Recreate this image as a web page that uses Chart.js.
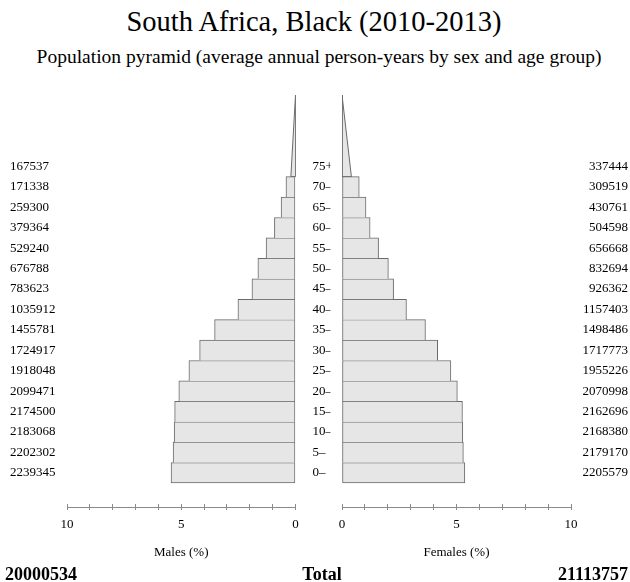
<!DOCTYPE html>
<html>
<head>
<meta charset="utf-8">
<script src="https://cdn.jsdelivr.net/npm/chart.js@4/dist/chart.umd.min.js"></script>
<style>
  html, body { margin: 0; padding: 0; background: #fff; }
  #wrap { position: relative; width: 630px; height: 582px; overflow: hidden;
          font-family: "Liberation Serif", "Times New Roman", serif; color: #000; }
  #wrap canvas { position: absolute; left: 0; top: 0; }
  .txt { position: absolute; white-space: nowrap; line-height: 1; }
</style>
</head>
<body>
<div id="wrap">
  <div class="txt" id="title" style="left:0; width:628px; text-align:center; top:8px; font-size:28.5px;">South Africa, Black (2010-2013)</div>
  <div class="txt" id="subtitle" style="left:4px; width:630px; text-align:center; top:47px; font-size:19.5px;">Population pyramid (average annual person-years by sex and age group)</div>
  <canvas id="maleChart" width="630" height="582"></canvas>
  <canvas id="femaleChart" width="630" height="582"></canvas>
  <div class="txt" id="maleTotal" style="left:5px; top:565px; font-size:18px; font-weight:bold;"></div>
  <div class="txt" id="totalLabel" style="left:0; width:644px; text-align:center; top:565px; font-size:18px; font-weight:bold;">Total</div>
  <div class="txt" id="femaleTotal" style="right:2px; top:565px; font-size:18px; font-weight:bold;"></div>
</div>
<script>
// Five-year age groups, youngest first; the last group is open-ended.
const ageGroups = ['0–', '5–', '10–', '15–', '20–', '25–', '30–', '35–',
                   '40–', '45–', '50–', '55–', '60–', '65–', '70–', '75+'];
const ageStart  = [0, 5, 10, 15, 20, 25, 30, 35, 40, 45, 50, 55, 60, 65, 70, 75];

// Average annual person-years per age group.
const males   = [2239345, 2202302, 2183068, 2174500, 2099471, 1918048, 1724917, 1455781,
                 1035912, 783623, 676788, 529240, 379364, 259300, 171338, 167537];
const females = [2205579, 2179170, 2168380, 2162696, 2070998, 1955226, 1717773, 1498486,
                 1157403, 926362, 832694, 656668, 504598, 430761, 309519, 337444];

// Percent-axis ticks (every 1 %, labelled every 5 %).
const pctTicks = [0, 5, 10];

const BAND = 5;          // width of an age group in years
const OPEN_TOP = 95;     // the open 75+ group tapers off at this age
const Y_MIN = -5.142;    // room below the youngest group for the percent axis

const sum = a => a.reduce((s, v) => s + v, 0);
const maleTotal = sum(males);
const femaleTotal = sum(females);
const grandTotal = maleTotal + femaleTotal;
const pct = v => v / grandTotal * 100;

const FILL = '#e6e6e6';
const EDGE = '#6a6a6a';
const AXIS = '#8a8a8a';
const FONT = { family: '"Liberation Serif", "Times New Roman", serif', size: 13 };
const bandCentres = ageStart.map(a => a + BAND / 2);
const lastClosed = ageStart.length - 1;

// Closed five-year groups as horizontal bars.
function barsFor(values) {
  return values.slice(0, lastClosed).map((v, i) => ({ x: pct(v), y: bandCentres[i] }));
}
// Open 75+ group as a triangle spread over 75..95 with the same area as one band.
function tipFor(values) {
  const open = ageStart[lastClosed];
  const base = pct(values[lastClosed]) * BAND / (OPEN_TOP - open) * 2;
  return [{ x: 0, y: open }, { x: base, y: open }, { x: 0, y: OPEN_TOP }, { x: 0, y: open }];
}

// Thin shared edges between stacked groups: only the bottom group gets a bottom edge.
const edgeWidths = ctx => ({ top: 1, left: 1, right: 1, bottom: ctx.dataIndex === 0 ? 1 : 0 });

// Horizontal percent-axis line running through the middle of the tick marks.
const axisLine = {
  id: 'axisLine',
  afterDraw(chart) {
    const s = chart.scales.x;
    const y = Math.round(s.top + 3) + 0.5;
    const ctx = chart.ctx;
    ctx.save();
    ctx.strokeStyle = AXIS;
    ctx.lineWidth = 1;
    ctx.beginPath();
    ctx.moveTo(s.getPixelForValue(0), y);
    ctx.lineTo(s.getPixelForValue(10), y);
    ctx.stroke();
    ctx.restore();
  }
};

function pctAxis(reverse, title) {
  return {
    type: 'linear', position: 'bottom', reverse, min: 0, max: 10,
    border: { display: false },
    grid: { display: true, drawOnChartArea: false, drawTicks: true, tickLength: 6, color: AXIS, lineWidth: 1 },
    ticks: { stepSize: 1, autoSkip: false, maxRotation: 0, padding: 7, font: FONT, color: '#000',
             callback: v => pctTicks.includes(v) ? String(v) : '' },
    title: { display: true, text: title, font: FONT, color: '#000', padding: { top: 0, bottom: 22 } },
    afterFit: s => { s.height = 78; }
  };
}

function ageAxis(position, labels, width, crossAlign, padding) {
  return {
    type: 'linear', position, min: Y_MIN, max: OPEN_TOP, offset: false,
    border: { display: false },
    grid: { display: false, drawTicks: false },
    afterBuildTicks: s => { s.ticks = bandCentres.map(v => ({ value: v })); },
    ticks: { autoSkip: false, padding, crossAlign, font: FONT, color: '#000',
             callback: (v, i) => String(labels[i]) },
    afterFit: s => { s.width = width; }
  };
}

function datasets(values) {
  return [
    { type: 'bar', data: barsFor(values), backgroundColor: FILL, borderColor: EDGE,
      borderWidth: edgeWidths, borderSkipped: false, barPercentage: 1, categoryPercentage: 1 },
    { type: 'line', data: tipFor(values), backgroundColor: FILL, borderColor: EDGE,
      borderWidth: 1, fill: 'shape', pointRadius: 0, tension: 0 }
  ];
}

const common = {
  indexAxis: 'y', responsive: false, animation: false, devicePixelRatio: 1, events: [],
  plugins: { legend: { display: false }, tooltip: { enabled: false } }
};

new Chart(document.getElementById('maleChart'), {
  type: 'bar',
  data: { datasets: datasets(males) },
  options: Object.assign({}, common, {
    layout: { padding: { left: 10, right: 299.5, top: 95, bottom: 0 } },
    scales: {
      x: pctAxis(true, 'Males (%)'),
      y: ageAxis('left', males, 57, 'far', 0),
      yAge: ageAxis('right', ageGroups, 35, 'near', 17)
    }
  }),
  plugins: [axisLine]
});

new Chart(document.getElementById('femaleChart'), {
  type: 'bar',
  data: { datasets: datasets(females) },
  options: Object.assign({}, common, {
    layout: { padding: { left: 342, right: 2, top: 95, bottom: 0 } },
    scales: {
      x: pctAxis(false, 'Females (%)'),
      y: ageAxis('right', females, 57, 'far', 0)
    }
  }),
  plugins: [axisLine]
});

document.getElementById('maleTotal').textContent = String(maleTotal);
document.getElementById('femaleTotal').textContent = String(femaleTotal);
</script>
</body>
</html>
